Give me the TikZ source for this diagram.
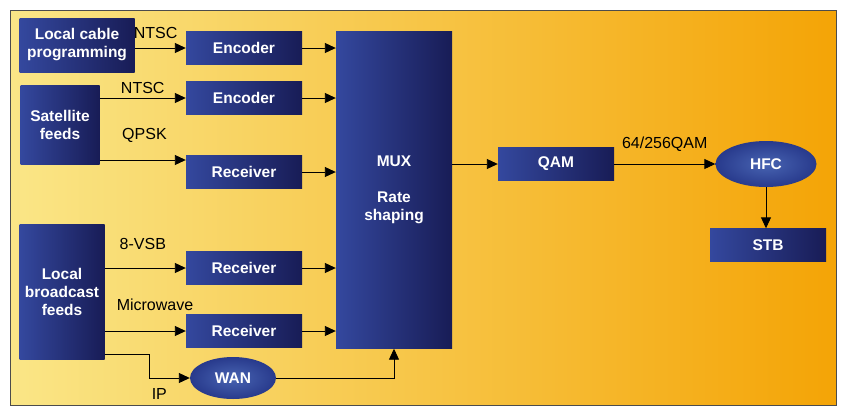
\documentclass[tikz,border=0pt]{standalone}
\usepackage{fontspec}
\setmainfont{Liberation Sans}
\usetikzlibrary{arrows.meta,shapes.geometric}
\definecolor{boxlight}{RGB}{52,72,158}
\definecolor{boxdark}{RGB}{24,28,86}
\definecolor{ovalin}{RGB}{72,100,178}
\definecolor{ovalout}{RGB}{40,58,140}
\definecolor{bgleft}{RGB}{250,230,135}
\definecolor{bgright}{RGB}{244,164,6}
\tikzstyle{box}=[rectangle,left color=boxlight,right color=boxdark,text=white,font=\fontsize{15.5}{18}\selectfont\bfseries,align=center,inner sep=0pt]
\tikzstyle{unit}=[box,minimum width=116pt,minimum height=33pt]
\tikzstyle{oval}=[ellipse,inner color=ovalin,outer color=ovalout,text=white,font=\fontsize{15.5}{18}\selectfont\bfseries,inner sep=0pt]
\tikzstyle{edge}=[draw,line width=0.9pt,-{Triangle[length=11pt,width=10pt]}]
\tikzstyle{signal}=[font=\fontsize{16}{18}\selectfont,inner sep=1pt]

\begin{document}
\begin{tikzpicture}[x=1pt,y=-1pt]
				\useasboundingbox (0,0) rectangle (841,410);
				\shade[left color=bgleft,right color=bgright] (10,10) rectangle (836,405);
				\draw[black!70,line width=0.6pt] (10,10) rectangle (836,405);

				% First we draw the sources and the big blocks
				\node[box,minimum width=115pt,minimum height=54pt] (lcp) at (77,45) {Local cable\\programming};
				\node[box,minimum width=79pt,minimum height=79pt] (sat) at (60,125) {Satellite\\feeds};
				\node[box,minimum width=85pt,minimum height=135pt] (bcast) at (62,292) {Local\\broadcast\\feeds};
				\node[box,minimum width=116pt,minimum height=317pt] (mux) at (394,190) {MUX\\[18pt]Rate\\shaping};

				% Then the small units
				\foreach \pos/\name/\txt in {{(244,48)/enc1/Encoder}, {(244,98)/enc2/Encoder}, {(244,172)/rec1/Receiver},
										{(244,268)/rec2/Receiver}, {(244,331)/rec3/Receiver}, {(556,164)/qam/QAM}, {(768,245)/stb/STB}}
				\node[unit] (\name) at \pos {\txt};

				\node[oval,minimum width=86pt,minimum height=42pt] (wan) at (233,378) {WAN};
				\node[oval,minimum width=101pt,minimum height=46pt] (hfc) at (766,164) {HFC};

				% Connect sources with units and write the signals
				\coordinate (qpsk) at ([yshift=12pt]rec1.west);
				\coordinate (ip) at ([yshift=-62pt]bcast.east);
				\path[edge] (lcp.east |- enc1) -- node[signal,pos=0.41,above=8pt] {NTSC} (enc1);
				\path[edge] (sat.east |- enc2) -- node[signal,above=3pt] {NTSC} (enc2);
				\path[edge] (sat.east |- qpsk) -- node[signal,pos=0.52,above=16pt] {QPSK} (qpsk);
				\path[edge] (bcast.east |- rec2) -- node[signal,pos=0.47,above=17pt] {8-VSB} (rec2);
				\path[edge] (bcast.east |- rec3) -- node[signal,pos=0.62,above=19pt] {Microwave} (rec3);
				\path[edge] (ip) -- ++(45,0) |- node[signal,pos=0.62,below=9pt] {IP} (wan);

				% Everything goes into the multiplexer
				\foreach \source in {enc1, enc2, rec1, rec2, rec3}
				\path[edge] (\source) -- (\source -| mux.west);
				\path[edge] (wan) -| (mux.south);

				% Out to the cable plant
				\path[edge] (mux.east |- qam) -- (qam);
				\path[edge] (qam) -- node[signal,above=11pt] {64/256QAM} (hfc);
				\path[edge] (hfc) -- (hfc |- stb.north);
			\end{tikzpicture}
\end{document}
